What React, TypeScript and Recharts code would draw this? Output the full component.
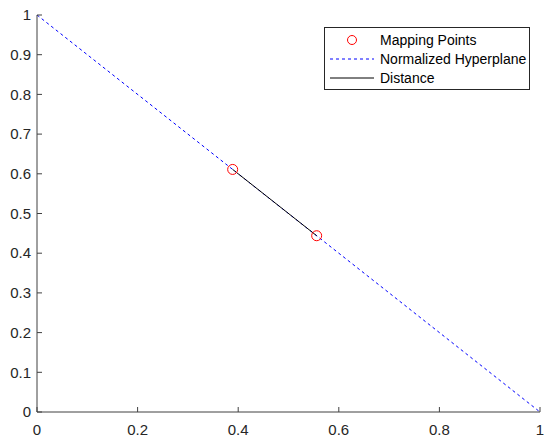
import React from "react";
import { ComposedChart, Line, Scatter, XAxis, YAxis } from "recharts";

const xTicks = [0, 0.2, 0.4, 0.6, 0.8, 1];
const yTicks = [0, 0.1, 0.2, 0.3, 0.4, 0.5, 0.6, 0.7, 0.8, 0.9, 1];
const hyperplane = [
  { x: 0, y: 1 },
  { x: 1, y: 0 },
];
const mappingPoints = [
  { x: 0.389, y: 0.611 },
  { x: 0.556, y: 0.444 },
];
const distance = [
  { x: 0.389, y: 0.611 },
  { x: 0.556, y: 0.444 },
];
const legendLabels = ["Mapping Points", "Normalized Hyperplane", "Distance"];

const AXIS = "#404040";
const FONT = "Arial, 'Liberation Sans', Helvetica, sans-serif";

const YTick = (props: any) => {
  const { x, y, payload } = props;
  return (
    <g>
      <line x1={x} y1={y} x2={x + 5} y2={y} stroke={AXIS} strokeWidth={1} />
      <text x={x - 6} y={y} dy="0.35em" textAnchor="end" fill="#262626" fontSize={15} fontFamily={FONT}>
        {String(payload.value)}
      </text>
    </g>
  );
};

const XTick = (props: any) => {
  const { x, y, payload } = props;
  return (
    <g>
      <line x1={x} y1={y} x2={x} y2={y - 5} stroke={AXIS} strokeWidth={1} />
      <text x={x} y={y + 18} dy="0.35em" textAnchor="middle" fill="#262626" fontSize={15} fontFamily={FONT}>
        {String(payload.value)}
      </text>
    </g>
  );
};

const LegendBox = () => (
  <svg width={206} height={63} style={{ display: "block" }}>
    <rect x={0.5} y={0.5} width={205} height={62} fill="#fff" stroke="#262626" strokeWidth={1} />
    <circle cx={28} cy={13} r={4.5} fill="none" stroke="#ff0000" strokeWidth={1} />
    <text x={56} y={13} dy="0.35em" fontSize={14} fontFamily={FONT} fill="#000">{legendLabels[0]}</text>
    <line x1={6} y1={32} x2={50} y2={32} stroke="#0000ff" strokeWidth={1} strokeDasharray="3 3" />
    <text x={56} y={32} dy="0.35em" fontSize={14} fontFamily={FONT} fill="#000">{legendLabels[1]}</text>
    <line x1={6} y1={51} x2={50} y2={51} stroke="#000" strokeWidth={1} />
    <text x={56} y={51} dy="0.35em" fontSize={14} fontFamily={FONT} fill="#000">{legendLabels[2]}</text>
  </svg>
);

export default function App() {
  return (
    <div style={{ position: "absolute", left: 0, top: 0, width: 550, height: 446, background: "#fff" }}>
      <ComposedChart width={550} height={446} margin={{ top: 15, right: 10, bottom: 0, left: 0 }}>
        <XAxis
          type="number"
          dataKey="x"
          domain={[0, 1]}
          ticks={xTicks}
          height={34}
          tickSize={0}
          tickMargin={0}
          tickLine={false}
          axisLine={{ stroke: AXIS }}
          tick={<XTick />}
          allowDataOverflow
        />
        <YAxis
          type="number"
          dataKey="y"
          domain={[0, 1]}
          ticks={yTicks}
          width={37}
          tickSize={0}
          tickMargin={0}
          tickLine={false}
          axisLine={{ stroke: AXIS }}
          tick={<YTick />}
          allowDataOverflow
        />
        <Line
          data={hyperplane}
          dataKey="y"
          type="linear"
          stroke="#0000ff"
          strokeWidth={1}
          strokeDasharray="3 3"
          dot={false}
          activeDot={false}
          isAnimationActive={false}
          name="Normalized Hyperplane"
        />
        <Line
          data={distance}
          dataKey="y"
          type="linear"
          stroke="#000000"
          strokeWidth={1}
          dot={false}
          activeDot={false}
          isAnimationActive={false}
          name="Distance"
        />
        <Scatter
          data={mappingPoints}
          dataKey="y"
          isAnimationActive={false}
          name="Mapping Points"
          shape={(p: any) => <circle cx={p.cx} cy={p.cy} r={5} fill="none" stroke="#ff0000" strokeWidth={1} />}
        />
      </ComposedChart>
      <div style={{ position: "absolute", left: 324, top: 27 }}>
        <LegendBox />
      </div>
    </div>
  );
}
